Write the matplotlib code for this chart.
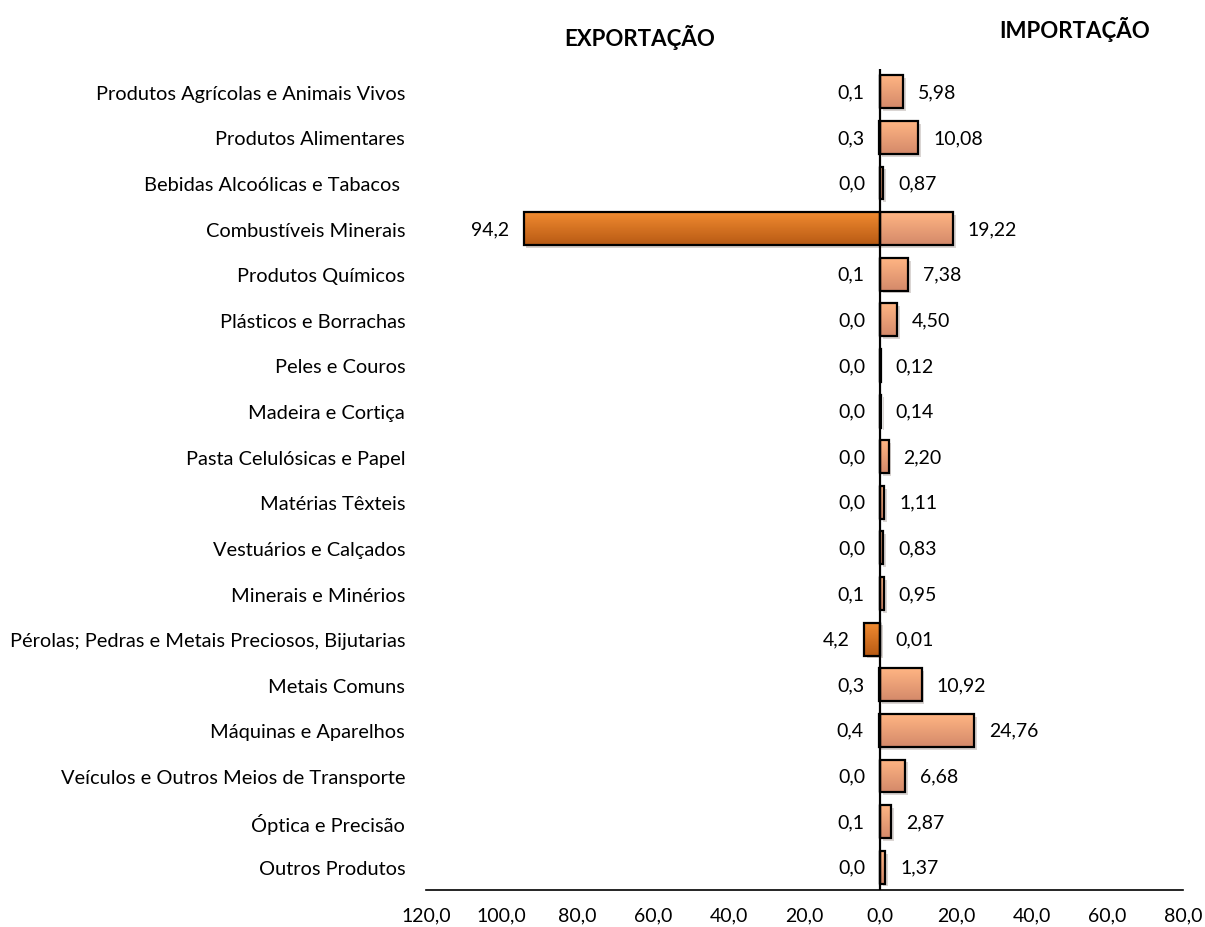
import matplotlib
matplotlib.use("Agg")
import matplotlib.pyplot as plt
import numpy as np
from matplotlib import patheffects as pe
from matplotlib.colors import LinearSegmentedColormap

categories = [
    "Produtos Agrícolas e Animais Vivos",
    "Produtos Alimentares",
    "Bebidas Alcoólicas e Tabacos ",
    "Combustíveis Minerais",
    "Produtos Químicos",
    "Plásticos e Borrachas",
    "Peles e Couros",
    "Madeira e Cortiça",
    "Pasta Celulósicas e Papel",
    "Matérias Têxteis",
    "Vestuários e Calçados",
    "Minerais e Minérios",
    "Pérolas; Pedras e Metais Preciosos, Bijutarias",
    "Metais Comuns",
    "Máquinas e Aparelhos",
    "Veículos e Outros Meios de Transporte",
    "Óptica e Precisão",
    "Outros Produtos",
]
exportacao = [0.1, 0.3, 0.0, 94.2, 0.1, 0.0, 0.0, 0.0, 0.0, 0.0, 0.0, 0.1, 4.2, 0.3, 0.4, 0.0, 0.1, 0.0]
importacao = [5.98, 10.08, 0.87, 19.22, 7.38, 4.50, 0.12, 0.14, 2.20, 1.11, 0.83, 0.95, 0.01, 10.92, 24.76, 6.68, 2.87, 1.37]
xticks = [-120, -100, -80, -60, -40, -20, 0, 20, 40, 60, 80]

plt.rcParams['font.family'] = ['Lato', 'DejaVu Sans']

fig = plt.figure(figsize=(12.05, 9.28), dpi=100)
ax = fig.add_axes([426/1205, 1-891/928, (1183-426)/1205, (891-70)/928])

y = np.arange(len(categories))
h = 0.72
exp_vals = -np.array(exportacao)
imp_vals = np.array(importacao)

exp_cmap = LinearSegmentedColormap.from_list("e", ["#F08A30", "#B85A14"])
imp_cmap = LinearSegmentedColormap.from_list("i", ["#FFB583", "#D4896A"])

def grad_bars(vals, cmap):
    bars = ax.barh(y, vals, height=h, color=cmap(0.5), edgecolor="none", zorder=2,
                   path_effects=[pe.SimplePatchShadow(offset=(2, -2), alpha=0.2), pe.Normal()])
    grad = np.linspace(0, 1, 64).reshape(-1, 1)
    for b in bars:
        x0, y0 = b.get_x(), b.get_y()
        w, hh = b.get_width(), b.get_height()
        if abs(w) < 1e-9:
            continue
        im = ax.imshow(grad, cmap=cmap, aspect="auto", zorder=3,
                       extent=[min(x0, x0 + w), max(x0, x0 + w), y0 + hh, y0],
                       interpolation="bicubic")
        im.set_clip_path(b)
    ax.barh(y, vals, height=h, fill=False, edgecolor="black", linewidth=1.6, zorder=4)
    return bars

grad_bars(exp_vals, exp_cmap)
grad_bars(imp_vals, imp_cmap)

ax.axvline(0, color="black", linewidth=1.6, zorder=5)

fs_num = 14
fs_cat = 14.4
px = 200 / 757.0  # data units per pixel
for yi, e, i in zip(y, exportacao, importacao):
    ax.text(-e - 15 * px, yi, f"{e:.1f}".replace(".", ","), ha="right", va="center",
            fontsize=fs_num, color="black")
    ax.text(i + 15 * px, yi, f"{i:.2f}".replace(".", ","), ha="left", va="center",
            fontsize=fs_num, color="black")

ax.set_xlim(-120, 80)
ax.set_ylim(17.5, -0.5)
ax.set_xticks(xticks)
ax.set_xticklabels([f"{abs(t):.1f}".replace(".", ",") for t in xticks], fontsize=fs_num)
ax.set_yticks(y)
ax.set_yticklabels(categories, fontsize=fs_cat)
ax.tick_params(axis="y", length=0, pad=15)
ax.tick_params(axis="x", length=0, pad=12)
for s in ["top", "left", "right"]:
    ax.spines[s].set_visible(False)
ax.spines["bottom"].set_linewidth(1.2)

fig.text(640/1205, 1-37/928, "EXPORTAÇÃO", ha="center", va="center", fontsize=16, fontweight="bold")
fig.text(1075/1205, 1-30/928, "IMPORTAÇÃO", ha="center", va="center", fontsize=16, fontweight="bold")

fig.savefig("out.png", dpi=100)
